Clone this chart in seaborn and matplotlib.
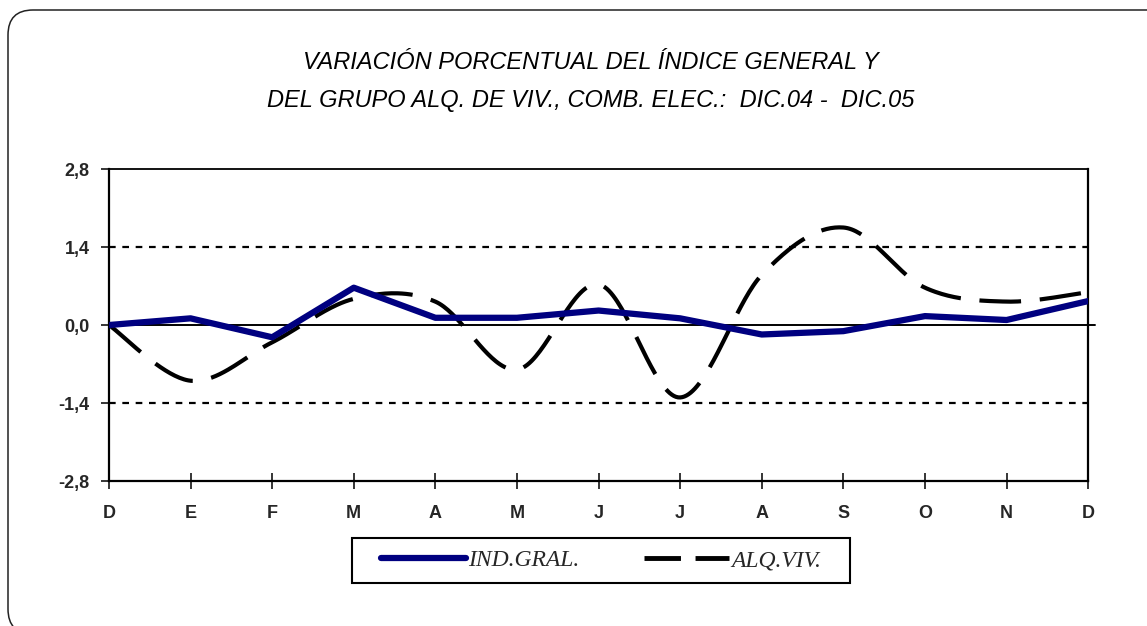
import numpy as np
import matplotlib
matplotlib.use('Agg')
import matplotlib.pyplot as plt
import seaborn as sns
from matplotlib.lines import Line2D
from matplotlib.patches import FancyBboxPatch, Rectangle
from matplotlib.transforms import IdentityTransform

sns.set_style('white')

# data (monthly % variation, Dec.04 - Dec.05)
months = ['D', 'E', 'F', 'M', 'A', 'M', 'J', 'J', 'A', 'S', 'O', 'N', 'D']
ind_gral = [0.0, 0.12, -0.22, 0.67, 0.13, 0.13, 0.26, 0.12, -0.17, -0.11, 0.16, 0.09, 0.43]
alq_viv = [0.0, -1.0, -0.31, 0.47, 0.42, -0.8, 0.73, -1.3, 0.9, 1.75, 0.67, 0.42, 0.59]
y_ticks = [-2.8, -1.4, 0.0, 1.4, 2.8]
y_labels = ['-2,8', '-1,4', '0,0', '1,4', '2,8']

NAVY = '#000080'


def smooth(xs, ys, n=40):
    """Excel style smoothed line: bezier segments with 1/6 tangents."""
    xs = np.asarray(xs, float)
    ys = np.asarray(ys, float)
    px = np.concatenate([[xs[0]], xs, [xs[-1]]])
    py = np.concatenate([[ys[0]], ys, [ys[-1]]])
    out_x, out_y = [], []
    t = np.linspace(0, 1, n)
    for i in range(1, len(px) - 2):
        p0 = np.array([px[i], py[i]])
        p3 = np.array([px[i + 1], py[i + 1]])
        p1 = p0 + (np.array([px[i + 1], py[i + 1]]) - np.array([px[i - 1], py[i - 1]])) / 6
        p2 = p3 - (np.array([px[i + 2], py[i + 2]]) - np.array([px[i], py[i]])) / 6
        b = ((1 - t) ** 3)[:, None] * p0 + (3 * (1 - t) ** 2 * t)[:, None] * p1 \
            + (3 * (1 - t) * t ** 2)[:, None] * p2 + (t ** 3)[:, None] * p3
        out_x.extend(b[:, 0])
        out_y.extend(b[:, 1])
    return np.array(out_x), np.array(out_y)


fig = plt.figure(figsize=(11.47, 6.26), dpi=100)
ax = fig.add_axes([0.095, 0.2316, 0.8537, 0.4984])

# outer rounded frame (display pixels, y from bottom)
frame = FancyBboxPatch((8, -8), 1180, 624, boxstyle='round,pad=0,rounding_size=25',
                       transform=IdentityTransform(), fill=False, edgecolor='#222222',
                       linewidth=1.1)
fig.patches.append(frame)

x = np.arange(len(months))

# dotted gridlines at +-1.4
for yv in [-1.4, 1.4]:
    ax.axhline(yv, color='black', linewidth=1.6, linestyle=(0, (3, 3)), zorder=1)
ax.axhline(0, color='black', linewidth=1.4, xmin=0, xmax=1.007, clip_on=False, zorder=2)

sx, sy = smooth(x, alq_viv)
sns.lineplot(x=sx, y=sy, sort=False, estimator=None, ax=ax, color='black',
             linewidth=3.0, zorder=3)
ax.lines[-1].set_dashes((10, 4.5))
sns.lineplot(x=x, y=ind_gral, sort=False, estimator=None, ax=ax, color=NAVY,
             linewidth=4.5, zorder=4)
ax.lines[-1].set_solid_capstyle('round')

ax.set_xlim(0, len(months) - 1)
ax.set_ylim(-2.8, 2.8)
ax.set_xticks(x)
ax.set_xticklabels(months)
ax.set_yticks(y_ticks)
ax.set_yticklabels(y_labels)
for lab in ax.get_xticklabels() + ax.get_yticklabels():
    lab.set_fontweight('bold')
    lab.set_fontfamily('Liberation Sans')
    lab.set_fontsize(13)
ax.tick_params(axis='x', direction='inout', length=11, width=1.3, pad=12, bottom=True)
ax.tick_params(axis='y', direction='out', length=6, width=1.3, pad=8, left=True)
for side in ['left', 'right', 'bottom']:
    ax.spines[side].set_color('black')
    ax.spines[side].set_linewidth(1.6)
ax.spines['top'].set_color('black')
ax.spines['top'].set_linewidth(1.3)
ax.set_xlabel('')
ax.set_ylabel('')

title_font = dict(family=['Liberation Sans Narrow', 'Liberation Sans'], style='italic',
                  fontsize=17, color='black')
fig.text(0.515, 0.9, 'VARIACIÓN PORCENTUAL DEL ÍNDICE GENERAL Y', ha='center',
         va='center', **title_font)
fig.text(0.515, 0.84, 'DEL GRUPO ALQ. DE VIV., COMB. ELEC.:  DIC.04 -  DIC.05',
         ha='center', va='center', **title_font)

# legend: entries without frame, box drawn separately
handles = [Line2D([], [], color=NAVY, linewidth=4.5, solid_capstyle='round'),
           Line2D([], [], color='black', linewidth=3.5, dashes=(7.5, 3))]
leg = fig.legend(handles, ['IND.GRAL.', 'ALQ.VIV.'], loc='center',
                 bbox_to_anchor=(0.524, 0.1046), ncol=2, frameon=False,
                 handlelength=3.6, handletextpad=0.1, columnspacing=2.75,
                 prop=dict(family='Liberation Serif', style='italic', size=17),
                 borderpad=0, borderaxespad=0)
fig.patches.append(Rectangle((0.3069, 0.0687), 0.4342, 0.0719, transform=fig.transFigure,
                             fill=False, edgecolor='black', linewidth=1.5))

fig.savefig('out.png', dpi=100)
